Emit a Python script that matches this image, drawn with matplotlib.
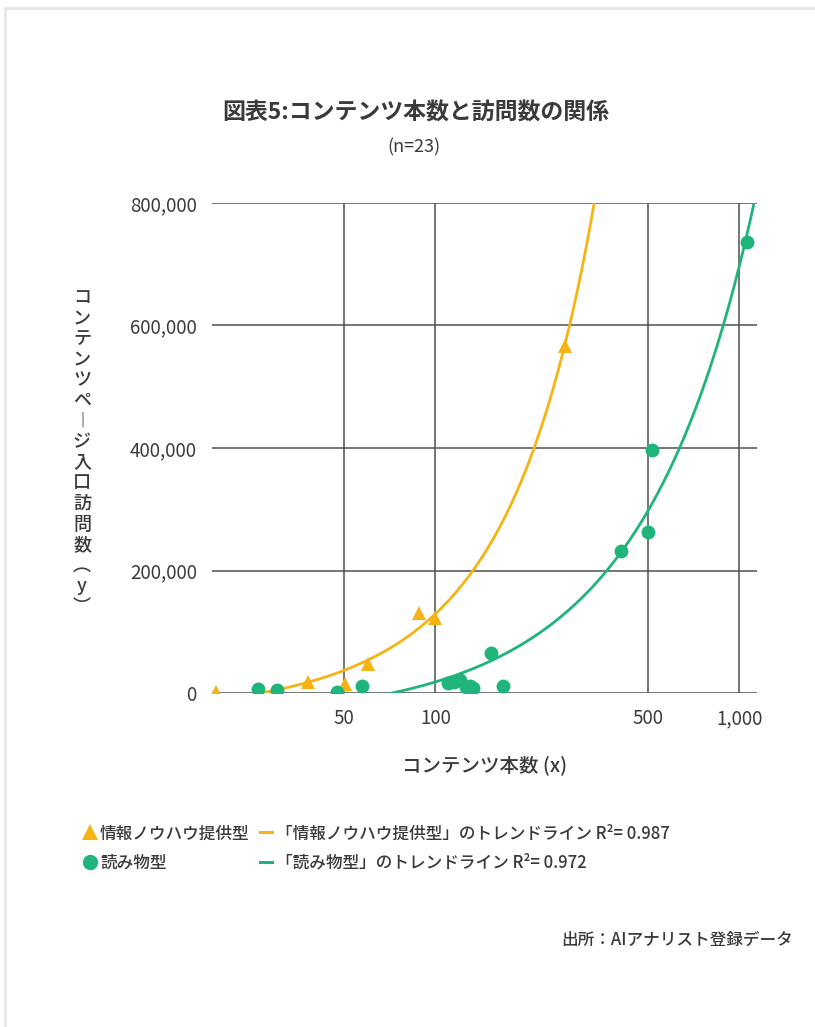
import numpy as np
import matplotlib
matplotlib.use("Agg")
import matplotlib.pyplot as plt
from matplotlib.lines import Line2D
from matplotlib.ticker import FixedLocator, FuncFormatter, NullLocator

plt.rcParams['font.family'] = ['Noto Sans CJK JP', 'DejaVu Sans']

# 情報ノウハウ提供型 (x: コンテンツ本数, y: 入口訪問数)
info_x = [19, 38, 50.5, 60, 88, 100, 266]
info_y = [1000, 18000, 14000, 47000, 131000, 122000, 566000]

# 読み物型
read_x = [26, 30, 47.5, 57.5, 110, 115, 120, 126, 130, 133, 152, 167, 409, 502, 515, 1057]
read_y = [7000, 5500, 1000, 11000, 16000, 18000, 22000, 10000, 12000, 8000,
          65000, 11000, 232000, 263000, 396000, 736000]

x_ticks = [50, 100, 500, 1000]
y_ticks = [0, 200000, 400000, 600000, 800000]

info_label = "情報ノウハウ提供型"
read_label = "読み物型"
info_trend_label = "「情報ノウハウ提供型」のトレンドライン R²= 0.987"
read_trend_label = "「読み物型」のトレンドライン R²= 0.972"

ORANGE = "#F6B414"
GREEN = "#1FB57A"
TEXT = "#3a3a3a"
GRID = "#505050"

W, H = 815, 1027
fig = plt.figure(figsize=(W / 100, H / 100), dpi=100)

# light frame around the panel
fig.add_artist(Line2D([5 / W, 5 / W], [0, 1 - 8 / H], color="#e8e8e8", lw=2.2))
fig.add_artist(Line2D([5 / W, 1], [1 - 8 / H, 1 - 8 / H], color="#e8e8e8", lw=2.2))

ax = fig.add_axes([212 / W, 1 - 693 / H, (757 - 212) / W, (693 - 203) / H])
ax.set_xscale("log")
ax.set_xlim(18.4, 1143)
ax.set_ylim(0, 800000)

for s in ax.spines.values():
    s.set_visible(False)

ax.xaxis.set_major_locator(FixedLocator(x_ticks))
ax.xaxis.set_minor_locator(NullLocator())
ax.xaxis.set_major_formatter(FuncFormatter(lambda v, p: f"{int(v):,}"))
ax.yaxis.set_major_locator(FixedLocator(y_ticks))
ax.yaxis.set_major_formatter(FuncFormatter(lambda v, p: f"{int(v):,}"))
ax.tick_params(length=0, labelsize=13.5, labelcolor=TEXT)
ax.tick_params(axis="x", pad=11)
ax.tick_params(axis="y", pad=11)
ax.grid(True, color=GRID, lw=1.1)
ax.set_axisbelow(True)

# polynomial (2nd order) trend lines fitted to each series
xs = np.geomspace(18.4, 1143, 400)
for px, py, c in [(info_x, info_y, ORANGE), (read_x, read_y, GREEN)]:
    coef = np.polyfit(px, py, 2)
    ax.plot(xs, np.polyval(coef, xs), color=c, lw=2.0, zorder=2)

ax.plot(info_x, info_y, "^", color=ORANGE, ms=10.5, mew=0, zorder=3)
ax.plot(read_x, read_y, "o", color=GREEN, ms=10, mew=0, zorder=3)

ax.set_xlabel("コンテンツ本数 (x)", fontsize=14, color=TEXT, labelpad=19,
              fontweight="medium")

# vertical y label, one character per line
ylabel_chars = ["コ", "ン", "テ", "ン", "ツ", "ペ", "︱", "ジ", "入", "口", "訪", "問", "数", "︵", "y", "︶"]
for i, ch in enumerate(ylabel_chars):
    fig.text(82 / W, 1 - (298 + i * 20.6) / H, ch, fontsize=13, color=TEXT,
             ha="center", va="center", fontweight="medium")

fig.text(416 / W, 1 - 113 / H, "図表5:コンテンツ本数と訪問数の関係", fontsize=16.5,
         fontweight="bold", color=TEXT, ha="center", va="center")
fig.text(414 / W, 1 - 147 / H, "(n=23)", fontsize=13, color=TEXT, ha="center", va="center")

handles = [
    Line2D([], [], ls="none", marker="^", color=ORANGE, ms=11, mew=0),
    Line2D([], [], ls="none", marker="o", color=GREEN, ms=11, mew=0),
    Line2D([], [], color=ORANGE, lw=2.2),
    Line2D([], [], color=GREEN, lw=2.2),
]
labels = [info_label, read_label, info_trend_label, read_trend_label]
fig.legend(handles, labels, ncol=2, loc="upper left", bbox_to_anchor=(75 / W, 1 - 816 / H),
           frameon=False, labelcolor=TEXT, handlelength=0.75,
           handletextpad=0.25, columnspacing=0.6, labelspacing=0.7, borderpad=0,
           prop={"weight": "medium", "size": 12})

fig.text(793 / W, 1 - 940 / H, "出所：AIアナリスト登録データ", fontsize=12, color=TEXT,
         ha="right", va="center", fontweight="medium")

fig.savefig("out.png", dpi=100)
